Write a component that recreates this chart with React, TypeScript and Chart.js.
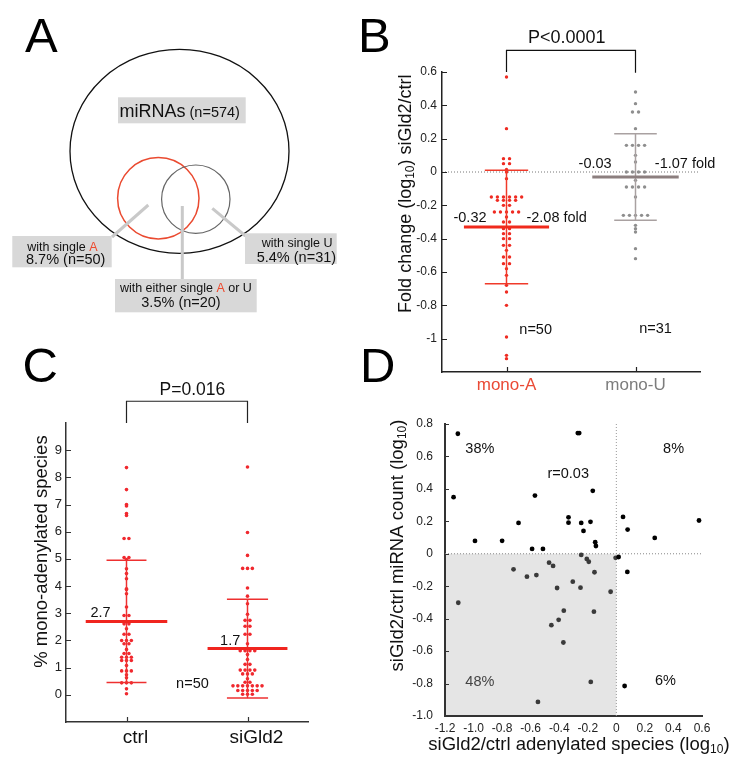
import React, { useEffect, useRef } from 'react';
import { Chart, registerables } from 'chart.js';
Chart.register(...registerables);

const FONT = "'Liberation Sans', Arial, Helvetica, sans-serif";

// ---------------- Panel A data ----------------
const A_TOTAL = 574;
const A_PCTS = [8.7, 5.4, 3.5];
const A_COUNTS = [50, 31, 20];

// ---------------- Panel B data ----------------
const B_CATEGORIES = ['mono-A', 'mono-U'];
const B_MONO_A = [
  0.57, 0.26, 0.08, 0.08, 0.05, 0.05, 0.015, 0.0, -0.04,
  -0.15, -0.15, -0.15, -0.15, -0.15, -0.15,
  -0.17, -0.17, -0.17, -0.17, -0.2, -0.2,
  -0.24, -0.24, -0.24, -0.24, -0.24, -0.27, -0.3, -0.3,
  -0.34, -0.34, -0.37, -0.37, -0.4, -0.4, -0.44, -0.44, -0.47,
  -0.51, -0.51, -0.55, -0.55, -0.58, -0.62, -0.68, -0.72, -0.8, -0.99, -1.1, -1.12,
];
const B_MONO_U = [
  0.48, 0.41, 0.36, 0.36, 0.26, 0.16, 0.16, 0.16, 0.16, 0.1, 0.06,
  0.0, 0.0, 0.0, 0.0, -0.05, -0.09, -0.09, -0.09, -0.09, -0.15,
  -0.26, -0.26, -0.26, -0.26, -0.26, -0.32, -0.34, -0.36, -0.46, -0.52,
];
const B_MEANS = [-0.33, -0.03];
const B_SDS = [0.34, 0.26];
const B_MEAN_LABELS = ['-0.32', '-0.03'];
const B_FOLD_LABELS = ['-2.08 fold', '-1.07 fold'];
const B_N = [50, 31];
const B_P = 'P<0.0001';
const B_Y_TICKS = [-1, -0.8, -0.6, -0.4, -0.2, 0, 0.2, 0.4, 0.6];

// ---------------- Panel C data ----------------
const C_CATEGORIES = ['ctrl', 'siGld2'];
const C_CTRL = [
  8.36, 7.55, 7.0, 6.95, 6.67, 6.6, 5.75, 5.75, 5.05, 4.98, 5.05, 4.64, 4.46, 4.27,
  3.9, 3.87, 3.72, 3.23, 2.92, 2.92, 2.61, 2.61, 2.43, 2.23, 2.23, 2.0, 2.0, 2.0,
  1.88, 1.88, 1.67, 1.52, 1.52, 1.38, 1.38, 1.38, 1.26, 1.26, 1.26, 1.08,
  0.88, 0.88, 0.88, 0.74, 0.63, 0.44, 0.44, 0.44, 0.22, 0.04,
];
const C_SIGLD2 = [
  8.38, 5.97, 5.13, 4.65, 4.65, 4.65, 3.93, 3.63, 3.35, 2.96, 2.74, 2.74, 2.52, 2.52,
  2.23, 2.23, 1.88, 1.62, 1.62, 1.62, 1.62, 1.48, 1.3, 1.12, 1.12,
  0.91, 0.91, 0.91, 0.91, 0.77, 0.77, 0.77, 0.59, 0.46, 0.46,
  0.33, 0.33, 0.33, 0.33, 0.33, 0.33, 0.33, 0.16, 0.16, 0.16, 0.16, 0.16, 0.02, 0.02, 0.02,
];
const C_MEANS = [2.7, 1.7];
const C_SDS = [2.25, 1.82];
const C_MEAN_LABELS = ['2.7', '1.7'];
const C_N = 50;
const C_P = 'P=0.016';
const C_Y_TICKS = [0, 1, 2, 3, 4, 5, 6, 7, 8, 9];

// ---------------- Panel D data ----------------
const D_X = [
  -1.11, -0.27, -0.26, -1.14, -0.57, -0.165, -0.685, -0.335, -0.335, -0.246, -0.181, -0.23,
  -0.99, -0.8, -0.148, -0.143, -0.59, -0.514, 0.047, 0.079, 0.269, 0.579, -0.246, -0.207,
  -0.193, -0.005, 0.016, -0.471, -0.443, -0.72, -0.153, 0.077, -0.626, -0.56, -0.305, -0.415,
  -0.251, -0.04, -1.107, -0.368, -0.157, -0.404, -0.455, -0.371, -0.179, 0.058, -0.549,
];
const D_Y = [
  0.74, 0.744, 0.744, 0.349, 0.359, 0.388, 0.19, 0.225, 0.192, 0.19, 0.197, 0.141,
  0.079, 0.08, 0.071, 0.048, 0.03, 0.03, 0.227, 0.149, 0.098, 0.205, -0.007, -0.032,
  -0.049, -0.025, -0.02, -0.055, -0.075, -0.096, -0.114, -0.112, -0.141, -0.131, -0.172, -0.211,
  -0.209, -0.234, -0.302, -0.351, -0.357, -0.407, -0.44, -0.547, -0.79, -0.815, -0.913,
];
const D_QUAD_LABELS = ['38%', '8%', '48%', '6%'];
const D_R_LABEL = 'r=0.03';
const D_X_TICKS = [-1.2, -1.0, -0.8, -0.6, -0.4, -0.2, 0, 0.2, 0.4, 0.6];
const D_Y_TICKS = [-1.0, -0.8, -0.6, -0.4, -0.2, 0, 0.2, 0.4, 0.6, 0.8];

// ---------------- helpers ----------------
type Part = { t: string; size: number; color?: string; dy?: number };

function drawParts(
  ctx: CanvasRenderingContext2D,
  parts: Part[],
  x: number,
  y: number,
  align: 'left' | 'center' | 'right' = 'left',
  rotate = 0
) {
  ctx.save();
  ctx.translate(x, y);
  if (rotate) ctx.rotate(rotate);
  const widths = parts.map((p) => {
    ctx.font = `${p.size}px ${FONT}`;
    return ctx.measureText(p.t).width;
  });
  const total = widths.reduce((a, b) => a + b, 0);
  let cx = align === 'left' ? 0 : align === 'center' ? -total / 2 : -total;
  ctx.textAlign = 'left';
  ctx.textBaseline = 'alphabetic';
  parts.forEach((p, i) => {
    ctx.font = `${p.size}px ${FONT}`;
    ctx.fillStyle = p.color || '#111';
    ctx.fillText(p.t, cx, p.dy || 0);
    cx += widths[i];
  });
  ctx.restore();
}

function text(ctx: CanvasRenderingContext2D, t: string, x: number, y: number, size: number, color = '#111', align: 'left' | 'center' | 'right' = 'center') {
  drawParts(ctx, [{ t, size, color }], x, y, align);
}

function swarm(values: number[], center: number, spacing: number) {
  const rows = new Map<number, number[]>();
  values.forEach((v) => {
    const k = Math.round(v * 100);
    if (!rows.has(k)) rows.set(k, []);
    rows.get(k)!.push(v);
  });
  const out: { x: number; y: number }[] = [];
  rows.forEach((vs) =>
    vs.forEach((v, j) => out.push({ x: center + (j - (vs.length - 1) / 2) * spacing, y: v }))
  );
  return out;
}

function seg(points: { x: number; y: number }[], color: string, width: number, dash: number[] = [], clip: any = undefined) {
  const d: any = {
    type: 'scatter',
    data: points,
    showLine: true,
    borderColor: color,
    borderWidth: width,
    borderDash: dash,
    pointRadius: 0,
    pointHoverRadius: 0,
    fill: false,
    tension: 0,
  };
  if (clip !== undefined) d.clip = clip;
  return d;
}

function errorBars(c: number, mean: number, sd: number, barColor: string, meanColor: string, halfMean: number, halfCap: number, meanW: number) {
  return [
    seg([{ x: c - halfMean, y: mean }, { x: c + halfMean, y: mean }], meanColor, meanW),
    seg([{ x: c, y: mean - sd }, { x: c, y: mean + sd }], barColor, 1.5),
    seg([{ x: c - halfCap, y: mean + sd }, { x: c + halfCap, y: mean + sd }], barColor, 1.5),
    seg([{ x: c - halfCap, y: mean - sd }, { x: c + halfCap, y: mean - sd }], barColor, 1.5),
  ];
}

function dots(points: { x: number; y: number }[], color: string | ((c: any) => string), r: number) {
  return {
    type: 'scatter',
    data: points,
    showLine: false,
    pointRadius: r,
    pointHoverRadius: r,
    pointBackgroundColor: color,
    pointBorderWidth: 0,
    pointBorderColor: 'rgba(0,0,0,0)',
  };
}

function inwardTicks(chart: any, axis: string, values: number[], len: number, color = '#222', width = 1.2) {
  const s = chart.scales[axis];
  const { ctx, chartArea: a } = chart;
  ctx.save();
  ctx.strokeStyle = color;
  ctx.lineWidth = width;
  ctx.beginPath();
  values.forEach((v) => {
    const p = Math.round(s.getPixelForValue(v)) + 0.5;
    if (s.isHorizontal()) {
      ctx.moveTo(p, a.bottom);
      ctx.lineTo(p, a.bottom - len);
    } else {
      ctx.moveTo(a.left, p);
      ctx.lineTo(a.left + len, p);
    }
  });
  ctx.stroke();
  ctx.restore();
}

const fmtShort = (v: number) => String(+Number(v).toFixed(1));
const fmtFixed = (v: number) => (Math.abs(v) < 1e-9 ? '0' : Number(v).toFixed(1));

const baseOptions = (padding: any) => ({
  responsive: false,
  animation: false as const,
  devicePixelRatio: 1,
  events: [] as any[],
  layout: { padding },
  plugins: { legend: { display: false }, tooltip: { enabled: false }, title: { display: false } },
});

const LETTER = 49;

// ---------------- Panel A config ----------------
const A_BIG = { cx: 179.5, cy: 151.3, rx: 109.5, ry: 102 };
const A_RED = { cx: 158.3, cy: 198.3, r: 40.7 };
const A_GRAY = { cx: 195.8, cy: 199.2, r: 34.2 };

function configA(): any {
  return {
    type: 'scatter',
    data: {
      datasets: [
        seg([{ x: 148.3, y: 205 }, { x: 112, y: 237 }], '#c9c9c9', 3),
        seg([{ x: 182.3, y: 206 }, { x: 182.3, y: 279 }], '#c9c9c9', 3),
        seg([{ x: 212.3, y: 208.3 }, { x: 245.5, y: 236 }], '#c9c9c9', 3),
      ],
    },
    options: {
      ...baseOptions(0),
      scales: {
        x: { type: 'linear', min: 0, max: 360, display: false },
        y: { type: 'linear', min: 0, max: 330, reverse: true, display: false },
      },
    },
    plugins: [
      {
        id: 'venn',
        beforeDatasetsDraw(chart: any) {
          const { ctx } = chart;
          const xs = chart.scales.x, ys = chart.scales.y;
          const k = xs.getPixelForValue(1) - xs.getPixelForValue(0);
          ctx.save();
          ctx.lineWidth = 1.3;
          ctx.strokeStyle = '#111';
          ctx.beginPath();
          ctx.ellipse(xs.getPixelForValue(A_BIG.cx), ys.getPixelForValue(A_BIG.cy), A_BIG.rx * k, A_BIG.ry * k, 0, 0, Math.PI * 2);
          ctx.stroke();
          ctx.lineWidth = 1.5;
          ctx.strokeStyle = '#ea4a30';
          ctx.beginPath();
          ctx.arc(xs.getPixelForValue(A_RED.cx), ys.getPixelForValue(A_RED.cy), A_RED.r * k, 0, Math.PI * 2);
          ctx.stroke();
          ctx.lineWidth = 1.2;
          ctx.strokeStyle = '#666';
          ctx.beginPath();
          ctx.arc(xs.getPixelForValue(A_GRAY.cx), ys.getPixelForValue(A_GRAY.cy), A_GRAY.r * k, 0, Math.PI * 2);
          ctx.stroke();
          ctx.restore();
        },
        afterDatasetsDraw(chart: any) {
          const { ctx } = chart;
          const X = (v: number) => chart.scales.x.getPixelForValue(v);
          const Y = (v: number) => chart.scales.y.getPixelForValue(v);
          const box = (x: number, y: number, w: number, h: number) => {
            ctx.save();
            ctx.fillStyle = '#d8d8d8';
            ctx.fillRect(X(x), Y(y), X(x + w) - X(x), Y(y + h) - Y(y));
            ctx.restore();
          };
          const RED = '#ee4a2e';
          box(118, 97.3, 127.7, 26);
          drawParts(ctx, [{ t: 'miRNAs', size: 18 }, { t: ` (n=${A_TOTAL})`, size: 14.5 }], X(119.5), Y(116.5));
          box(12.3, 236, 99.4, 31.3);
          drawParts(ctx, [{ t: 'with single ', size: 12.5 }, { t: 'A', size: 12.5, color: RED }], X(27.3), Y(250.5));
          drawParts(ctx, [{ t: `${A_PCTS[0]}% (n=${A_COUNTS[0]})`, size: 14.5 }], X(26), Y(263.5));
          box(245, 233.3, 91.7, 30.7);
          drawParts(ctx, [{ t: 'with single U', size: 12.5 }], X(261.7), Y(247.2));
          drawParts(ctx, [{ t: `${A_PCTS[1]}% (n=${A_COUNTS[1]})`, size: 14.5 }], X(256.7), Y(261.9));
          box(115, 279, 141.7, 33.3);
          drawParts(ctx, [{ t: 'with either single ', size: 12.5 }, { t: 'A', size: 12.5, color: RED }, { t: ' or U', size: 12.5 }], X(185.9), Y(291.8), 'center');
          drawParts(ctx, [{ t: `${A_PCTS[2]}% (n=${A_COUNTS[2]})`, size: 14.5 }], X(181), Y(306.9), 'center');
          text(ctx, 'A', 25, 51.7, LETTER, '#000', 'left');
        },
      },
    ],
  };
}

// ---------------- Panel B config ----------------
function configB(): any {
  const RED = '#ef2b22';
  const GRAY_DOT = '#8e8e8e';
  const datasets: any[] = [
    ...errorBars(1, B_MEANS[0], B_SDS[0], '#f03a2a', '#f02a1c', 0.33, 0.168, 3),
    ...errorBars(2, B_MEANS[1], B_SDS[1], '#a9a1a1', '#8c7f7f', 0.335, 0.165, 3),
    dots(swarm(B_MONO_A, 1, 0.047), RED, 1.7),
    dots(swarm(B_MONO_U, 2, 0.047), GRAY_DOT, 1.7),
    seg([{ x: 0.5, y: 0 }, { x: 2.5, y: 0 }], '#777', 1, [1, 2]),
    seg([{ x: 1, y: 0.6 }, { x: 1, y: 0.73 }, { x: 2, y: 0.73 }, { x: 2, y: 0.595 }], '#111', 1.2, [], false),
  ];
  return {
    type: 'scatter',
    data: { datasets },
    options: {
      ...baseOptions({ top: 72, right: 38, left: 0, bottom: 0 }),
      scales: {
        x: {
          type: 'linear', min: 0.5, max: 2.5,
          afterBuildTicks: (s: any) => { s.ticks = B_CATEGORIES.map((_, i) => ({ value: i + 1 })); },
          afterFit: (s: any) => { s.height = 28; },
          ticks: {
            callback: (_v: any, i: number) => B_CATEGORIES[i],
            color: (c: any) => (c.index === 0 ? '#ea4a35' : '#7c7c7c'),
            font: { family: FONT, size: 17 }, padding: 3, maxRotation: 0, autoSkip: false,
          },
          grid: { display: false, drawTicks: false },
          border: { display: true, color: '#222', width: 1.5 },
        },
        y: {
          type: 'linear', min: -1.2, max: 0.6,
          afterBuildTicks: (s: any) => { s.ticks = B_Y_TICKS.map((v) => ({ value: v })); },
          afterFit: (s: any) => { s.width = 102; },
          ticks: { callback: (v: any) => fmtShort(v), color: '#222', font: { family: FONT, size: 12 }, padding: 5, autoSkip: false },
          grid: { display: false, drawTicks: false },
          border: { display: true, color: '#222', width: 1.5 },
        },
      },
    },
    plugins: [
      {
        id: 'annB',
        afterDraw(chart: any) {
          const { ctx, chartArea: a } = chart;
          const X = (v: number) => chart.scales.x.getPixelForValue(v);
          const Y = (v: number) => chart.scales.y.getPixelForValue(v);
          inwardTicks(chart, 'y', B_Y_TICKS, 5);
          inwardTicks(chart, 'x', [1, 2], 5);
          text(ctx, B_P, X(1.467), Y(0.772), 18);
          text(ctx, B_MEAN_LABELS[0], X(0.717), Y(-0.298), 14.5);
          text(ctx, B_FOLD_LABELS[0], X(1.389), Y(-0.298), 14.5);
          text(ctx, B_MEAN_LABELS[1], X(1.687), Y(0.026), 14.5);
          text(ctx, B_FOLD_LABELS[1], X(2.384), Y(0.026), 14.5);
          text(ctx, `n=${B_N[0]}`, X(1.226), Y(-0.972), 14.5);
          text(ctx, `n=${B_N[1]}`, X(2.155), Y(-0.966), 14.5);
          drawParts(
            ctx,
            [
              { t: 'Fold change (log', size: 18 },
              { t: '10', size: 12, dy: 3 },
              { t: ') siGld2/ctrl', size: 18 },
            ],
            a.left - 31.3, Y(-0.13), 'center', -Math.PI / 2
          );
          text(ctx, 'B', 18, 51.7, LETTER, '#000', 'left');
        },
      },
    ],
  };
}

// ---------------- Panel C config ----------------
function configC(): any {
  const RED = '#f0282e';
  const datasets: any[] = [
    ...errorBars(1, C_MEANS[0], C_SDS[0], '#ee3030', '#f0251f', 0.337, 0.165, 3),
    ...errorBars(2, C_MEANS[1], C_SDS[1], '#ee3030', '#f0251f', 0.33, 0.17, 3),
    dots(swarm(C_CTRL, 1, 0.04), RED, 1.8),
    dots(swarm(C_SIGLD2, 2, 0.04), RED, 1.8),
    seg([{ x: 1, y: 10 }, { x: 1, y: 10.8 }, { x: 2, y: 10.8 }, { x: 2, y: 10 }], '#222', 1.2, [], false),
  ];
  return {
    type: 'scatter',
    data: { datasets },
    options: {
      ...baseOptions({ top: 93, right: 52, left: 0, bottom: 0 }),
      scales: {
        x: {
          type: 'linear', min: 0.5, max: 2.5,
          afterBuildTicks: (s: any) => { s.ticks = C_CATEGORIES.map((_, i) => ({ value: i + 1 })); },
          afterFit: (s: any) => { s.height = 46; },
          ticks: {
            callback: (_v: any, i: number) => C_CATEGORIES[i],
            color: '#111', font: { family: FONT, size: 19 }, padding: 4, maxRotation: 0, autoSkip: false, labelOffset: 9,
          },
          grid: { display: false, drawTicks: false },
          border: { display: true, color: '#333', width: 1.5 },
        },
        y: {
          type: 'linear', min: -1, max: 10,
          afterBuildTicks: (s: any) => { s.ticks = C_Y_TICKS.map((v) => ({ value: v })); },
          afterFit: (s: any) => { s.width = 66; },
          ticks: { callback: (v: any) => String(v), color: '#222', font: { family: FONT, size: 13 }, padding: 4, autoSkip: false },
          grid: { display: false, drawTicks: false },
          border: { display: true, color: '#333', width: 1.5 },
        },
      },
    },
    plugins: [
      {
        id: 'annC',
        afterDraw(chart: any) {
          const { ctx, chartArea: a } = chart;
          const X = (v: number) => chart.scales.x.getPixelForValue(v);
          const Y = (v: number) => chart.scales.y.getPixelForValue(v);
          inwardTicks(chart, 'y', C_Y_TICKS, 5, '#333');
          inwardTicks(chart, 'x', [1, 2], 5, '#333');
          text(ctx, C_P, X(1.545), Y(11.04), 17.5);
          text(ctx, C_MEAN_LABELS[0], X(0.785), Y(2.85), 14.5);
          text(ctx, C_MEAN_LABELS[1], X(1.857), Y(1.85), 14.5);
          text(ctx, `n=${C_N}`, X(1.545), Y(0.24), 14.5);
          drawParts(ctx, [{ t: '% mono-adenylated species', size: 18.5 }], a.left - 19, Y(5.27), 'center', -Math.PI / 2);
          text(ctx, 'C', 22.5, 51.7, LETTER, '#000', 'left');
        },
      },
    ],
  };
}

// ---------------- Panel D config ----------------
function configD(): any {
  const pts = D_X.map((x, i) => ({ x, y: D_Y[i] }));
  const datasets: any[] = [
    dots(pts, (c: any) => {
      const p = c.raw;
      return p && p.x < 0 && p.y < 0 ? '#3a3a3a' : '#000';
    }, 2.4),
    seg([{ x: 0, y: -1.0 }, { x: 0, y: 0.8 }], '#999', 1, [1, 2]),
    seg([{ x: -1.2, y: 0 }, { x: 0.6, y: 0 }], '#888', 1, [1, 2]),
  ];
  return {
    type: 'scatter',
    data: { datasets },
    options: {
      ...baseOptions({ top: 84, right: 36, left: 0, bottom: 0 }),
      scales: {
        x: {
          type: 'linear', min: -1.2, max: 0.6,
          afterBuildTicks: (s: any) => { s.ticks = D_X_TICKS.map((v) => ({ value: v })); },
          afterFit: (s: any) => { s.height = 52; },
          ticks: { callback: (v: any) => fmtFixed(v), color: '#222', font: { family: FONT, size: 12 }, padding: 5, maxRotation: 0, autoSkip: false },
          grid: { display: false, drawTicks: false },
          border: { display: true, color: '#333', width: 2 },
        },
        y: {
          type: 'linear', min: -1.0, max: 0.8,
          afterBuildTicks: (s: any) => { s.ticks = D_Y_TICKS.map((v) => ({ value: v })); },
          afterFit: (s: any) => { s.width = 105; },
          ticks: { callback: (v: any) => fmtFixed(v), color: '#222', font: { family: FONT, size: 12 }, padding: 12, autoSkip: false },
          grid: { display: false, drawTicks: false },
          border: { display: true, color: '#333', width: 2 },
        },
      },
    },
    plugins: [
      {
        id: 'annD',
        beforeDraw(chart: any) {
          const { ctx } = chart;
          const X = (v: number) => chart.scales.x.getPixelForValue(v);
          const Y = (v: number) => chart.scales.y.getPixelForValue(v);
          ctx.save();
          ctx.fillStyle = '#e5e5e5';
          ctx.fillRect(X(-1.2), Y(0), X(0) - X(-1.2), Y(-1.0) - Y(0));
          ctx.restore();
        },
        afterDraw(chart: any) {
          const { ctx, chartArea: a } = chart;
          const X = (v: number) => chart.scales.x.getPixelForValue(v);
          const Y = (v: number) => chart.scales.y.getPixelForValue(v);
          inwardTicks(chart, 'y', D_Y_TICKS, 4, '#333');
          text(ctx, D_QUAD_LABELS[0], X(-0.956), Y(0.62), 14.5);
          text(ctx, D_QUAD_LABELS[1], X(0.401), Y(0.62), 14.5);
          text(ctx, D_QUAD_LABELS[2], X(-0.956), Y(-0.813), 14.5, '#444');
          text(ctx, D_QUAD_LABELS[3], X(0.344), Y(-0.81), 14.5);
          text(ctx, D_R_LABEL, X(-0.337), Y(0.465), 14.5);
          drawParts(
            ctx,
            [
              { t: 'siGld2/ctrl miRNA count (log', size: 18.5 },
              { t: '10', size: 12, dy: 3 },
              { t: ')', size: 18.5 },
            ],
            a.left - 41.7, Y(0.051), 'center', -Math.PI / 2
          );
          drawParts(
            ctx,
            [
              { t: 'siGld2/ctrl adenylated species (log', size: 18.5 },
              { t: '10', size: 12, dy: 3 },
              { t: ')', size: 18.5 },
            ],
            X(-0.262), a.bottom + 34.3, 'center'
          );
          text(ctx, 'D', 20, 41.7, LETTER, '#000', 'left');
        },
      },
    ],
  };
}

function ChartCanvas({ left, top, width, height, make }: { left: number; top: number; width: number; height: number; make: () => any }) {
  const ref = useRef<HTMLCanvasElement>(null);
  useEffect(() => {
    const chart = new Chart(ref.current as HTMLCanvasElement, make());
    return () => chart.destroy();
  }, []);
  return (
    <canvas
      ref={ref}
      width={width}
      height={height}
      style={{ position: 'absolute', left, top, width, height }}
    />
  );
}

export default function App() {
  return (
    <div style={{ position: 'absolute', left: 0, top: 0, width: 738, height: 768, background: '#fff', overflow: 'hidden' }}>
      <ChartCanvas left={0} top={0} width={360} height={330} make={configA} />
      <ChartCanvas left={0} top={330} width={360} height={438} make={configC} />
      <ChartCanvas left={340} top={340} width={398} height={428} make={configD} />
      <ChartCanvas left={340} top={0} width={398} height={400} make={configB} />
    </div>
  );
}
